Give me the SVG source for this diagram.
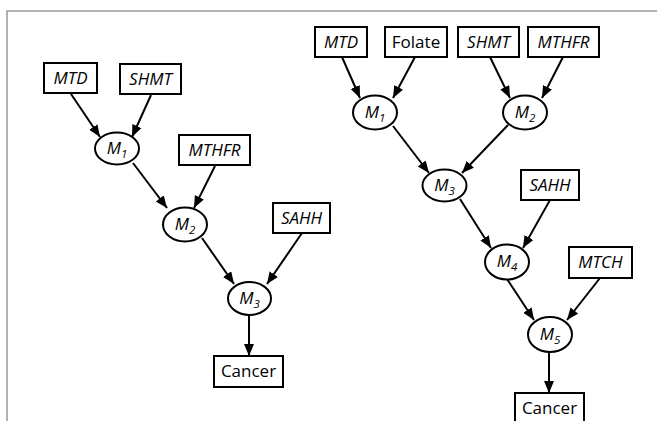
<svg xmlns="http://www.w3.org/2000/svg" width="657" height="421" viewBox="0 0 657 421">
<defs>
<marker id="ah" markerUnits="userSpaceOnUse" markerWidth="13" markerHeight="11" refX="12" refY="5" orient="auto">
<path d="M0,0 L12,5 L0,10 z" fill="#000"/>
</marker>
<style>
.box{fill:#fff;stroke:#000;stroke-width:2}
.ell{fill:#fff;stroke:#000;stroke-width:2}
.t{font-family:"Open Sans","Liberation Sans",sans-serif;font-size:17px;fill:#000;text-anchor:middle}
.i{font-style:italic}
.s{font-size:11.5px}
.edge{stroke:#000;stroke-width:2;fill:none;marker-end:url(#ah)}
</style>
</defs>
<rect x="0" y="0" width="657" height="421" fill="#fff"/>
<path d="M7,421 V11 H657" fill="none" stroke="#999" stroke-width="1.5"/>

<g id="connectors">
<line class="edge" x1="71" y1="94" x2="100" y2="137"/>
<line class="edge" x1="151" y1="95" x2="132" y2="137"/>
<line class="edge" x1="133" y1="163" x2="167" y2="208"/>
<line class="edge" x1="215" y1="166" x2="194" y2="208"/>
<line class="edge" x1="202" y1="238" x2="234" y2="284"/>
<line class="edge" x1="302" y1="233" x2="267" y2="284"/>
<line class="edge" x1="249" y1="315" x2="249" y2="356"/>

<line class="edge" x1="342" y1="57" x2="360" y2="98"/>
<line class="edge" x1="415" y1="57" x2="393" y2="98"/>
<line class="edge" x1="490" y1="57" x2="510" y2="98"/>
<line class="edge" x1="563" y1="57" x2="542" y2="98"/>
<line class="edge" x1="393" y1="126" x2="429" y2="173"/>
<line class="edge" x1="508" y1="125" x2="462" y2="173"/>
<line class="edge" x1="460" y1="199" x2="491" y2="248"/>
<line class="edge" x1="550" y1="200" x2="523" y2="248"/>
<line class="edge" x1="507" y1="279" x2="534" y2="320"/>
<line class="edge" x1="600" y1="278" x2="567" y2="320"/>
<line class="edge" x1="549" y1="351" x2="549" y2="393"/>
</g>

<g id="L_MTD"><rect class="box" x="44" y="63" width="53" height="30"/><text class="t i" x="70.5" y="84">MTD</text></g>
<g id="L_SHMT"><rect class="box" x="120" y="64" width="61" height="30"/><text class="t i" x="150.5" y="85">SHMT</text></g>
<g id="L_M1"><ellipse class="ell" cx="117" cy="148.5" rx="22" ry="16"/><text class="t i" x="117" y="154">M<tspan class="s" dy="4">1</tspan></text></g>
<g id="L_MTHFR"><rect class="box" x="179" y="135" width="71" height="30"/><text class="t i" x="214.5" y="156">MTHFR</text></g>
<g id="L_M2"><ellipse class="ell" cx="185" cy="224.5" rx="22" ry="17"/><text class="t i" x="185" y="230">M<tspan class="s" dy="4">2</tspan></text></g>
<g id="L_SAHH"><rect class="box" x="273" y="203" width="57" height="30"/><text class="t i" x="301.5" y="224">SAHH</text></g>
<g id="L_M3"><ellipse class="ell" cx="249.5" cy="298.5" rx="21.5" ry="16.5"/><text class="t i" x="249.5" y="304">M<tspan class="s" dy="4">3</tspan></text></g>
<g id="L_Cancer"><rect class="box" x="214" y="356" width="69" height="31"/><text class="t" x="248.5" y="377">Cancer</text></g>

<g id="R_MTD"><rect class="box" x="315" y="27" width="52" height="30"/><text class="t i" x="341" y="48">MTD</text></g>
<g id="R_Folate"><rect class="box" x="385" y="27" width="62" height="30"/><text class="t" x="416" y="48">Folate</text></g>
<g id="R_SHMT"><rect class="box" x="458" y="27" width="61" height="30"/><text class="t i" x="488.5" y="48">SHMT</text></g>
<g id="R_MTHFR"><rect class="box" x="528" y="27" width="71" height="30"/><text class="t i" x="563.5" y="48">MTHFR</text></g>
<g id="R_M1"><ellipse class="ell" cx="375" cy="112.5" rx="22" ry="17"/><text class="t i" x="375" y="118">M<tspan class="s" dy="4">1</tspan></text></g>
<g id="R_M2"><ellipse class="ell" cx="525" cy="112.5" rx="22" ry="17"/><text class="t i" x="525" y="118">M<tspan class="s" dy="4">2</tspan></text></g>
<g id="R_M3"><ellipse class="ell" cx="444.5" cy="185.5" rx="22" ry="16"/><text class="t i" x="444.5" y="191">M<tspan class="s" dy="4">3</tspan></text></g>
<g id="R_SAHH"><rect class="box" x="521" y="170" width="58" height="30"/><text class="t i" x="550" y="191">SAHH</text></g>
<g id="R_M4"><ellipse class="ell" cx="507" cy="262" rx="22" ry="17.5"/><text class="t i" x="507" y="267">M<tspan class="s" dy="4">4</tspan></text></g>
<g id="R_MTCH"><rect class="box" x="569" y="247" width="63" height="31"/><text class="t i" x="600.5" y="268">MTCH</text></g>
<g id="R_M5"><ellipse class="ell" cx="550" cy="334.5" rx="22" ry="17.5"/><text class="t i" x="550" y="340">M<tspan class="s" dy="4">5</tspan></text></g>
<g id="R_Cancer"><rect class="box" x="515" y="393" width="69" height="31"/><text class="t" x="549.5" y="414">Cancer</text></g>
</svg>
